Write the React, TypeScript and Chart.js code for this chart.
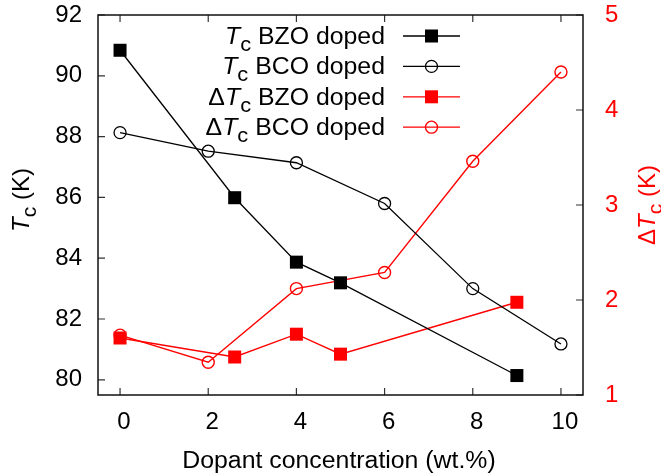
import React, { useEffect, useRef } from 'react';
import { Chart, registerables } from 'chart.js';

Chart.register(...registerables);

// ---- data ----
const bzoX = [0, 2.6, 4, 5, 9];
const bzoTc = [90.84, 85.99, 83.87, 83.19, 80.14];
const bzoDTc = [1.6, 1.4, 1.64, 1.43, 1.976];

const bcoX = [0, 2, 4, 6, 8, 10];
const bcoTc = [88.13, 87.52, 87.14, 85.8, 83.0, 81.18];
const bcoDTc = [1.63, 1.345, 2.12, 2.29, 3.46, 4.4];

const xTicks = [0, 2, 4, 6, 8, 10];
const tcTicks = [80, 82, 84, 86, 88, 90, 92];
const dtcTicks = [1, 2, 3, 4, 5];

const xTitle = 'Dopant concentration (wt.%)';

type Part = { t: string; it?: boolean; sub?: boolean };
const legendLabels: Part[][] = [
  [{ t: 'T', it: true }, { t: 'c', sub: true }, { t: ' BZO doped' }],
  [{ t: 'T', it: true }, { t: 'c', sub: true }, { t: ' BCO doped' }],
  [{ t: 'Δ' }, { t: 'T', it: true }, { t: 'c', sub: true }, { t: ' BZO doped' }],
  [{ t: 'Δ' }, { t: 'T', it: true }, { t: 'c', sub: true }, { t: ' BCO doped' }],
];
const leftTitle: Part[] = [{ t: 'T', it: true }, { t: 'c', sub: true }, { t: ' (K)' }];
const rightTitle: Part[] = [{ t: 'Δ' }, { t: 'T', it: true }, { t: 'c', sub: true }, { t: ' (K)' }];

const RED = '#ff0000';
const FONT = '"Liberation Sans", Arial, Helvetica, sans-serif';
const FS = 23;
const SX = 1.08;

function setFont(ctx: CanvasRenderingContext2D, p: Part, F: number) {
  const size = p.sub ? F * 0.88 : F;
  ctx.font = `${p.it ? 'italic ' : ''}${size}px ${FONT}`;
}

function richWidth(ctx: CanvasRenderingContext2D, parts: Part[], F: number) {
  let w = 0;
  for (const p of parts) {
    setFont(ctx, p, F);
    w += ctx.measureText(p.t).width;
  }
  return w;
}

function drawParts(ctx: CanvasRenderingContext2D, parts: Part[], F: number, startX: number) {
  let x = startX;
  ctx.textBaseline = 'alphabetic';
  ctx.textAlign = 'left';
  for (const p of parts) {
    setFont(ctx, p, F);
    ctx.fillText(p.t, x, p.sub ? F * 0.3 : 0);
    x += ctx.measureText(p.t).width;
  }
}

const framePlugin = {
  id: 'framePlugin',
  beforeDatasetsDraw(chart: any) {
    const { ctx, chartArea: a, scales } = chart;
    ctx.save();
    ctx.strokeStyle = '#333';
    ctx.lineWidth = 1.2;
    ctx.beginPath();
    const TL = 7;
    for (const t of scales.x.ticks) {
      const px = scales.x.getPixelForValue(t.value);
      ctx.moveTo(px, a.bottom);
      ctx.lineTo(px, a.bottom - TL);
      ctx.moveTo(px, a.top);
      ctx.lineTo(px, a.top + TL);
    }
    for (const t of scales.y.ticks) {
      const py = scales.y.getPixelForValue(t.value);
      ctx.moveTo(a.left, py);
      ctx.lineTo(a.left + TL, py);
    }
    for (const t of scales.y1.ticks) {
      const py = scales.y1.getPixelForValue(t.value);
      ctx.moveTo(a.right, py);
      ctx.lineTo(a.right - TL, py);
    }
    ctx.stroke();
    ctx.strokeStyle = '#111';
    ctx.lineWidth = 1.5;
    ctx.strokeRect(a.left, a.top, a.right - a.left, a.bottom - a.top);
    ctx.restore();
  },
  afterDraw(chart: any) {
    const { ctx } = chart;
    ctx.save();
    ctx.fillStyle = '#000';

    const styles = [
      { color: '#000', shape: 'rect' },
      { color: '#000', shape: 'circle' },
      { color: RED, shape: 'rect' },
      { color: RED, shape: 'circle' },
    ];
    for (let i = 0; i < legendLabels.length; i++) {
      const ly = 36 + i * 30.4;
      const w = richWidth(ctx, legendLabels[i], FS) * SX;
      ctx.save();
      ctx.fillStyle = '#000';
      ctx.translate(385 - w, ly + 8);
      ctx.scale(SX, 1);
      drawParts(ctx, legendLabels[i], FS, 0);
      ctx.restore();
      const st = styles[i];
      ctx.strokeStyle = st.color;
      ctx.lineWidth = 1.3;
      ctx.beginPath();
      ctx.moveTo(403, ly);
      ctx.lineTo(460, ly);
      ctx.stroke();
      if (st.shape === 'rect') {
        ctx.fillStyle = st.color;
        ctx.fillRect(431.5 - 6.5, ly - 6.5, 13, 13);
      } else {
        ctx.beginPath();
        ctx.arc(431.5, ly, 6, 0, Math.PI * 2);
        ctx.lineWidth = 1.3;
        ctx.stroke();
      }
    }

    ctx.fillStyle = '#000';
    ctx.font = `${FS}px ${FONT}`;
    const xw = ctx.measureText(xTitle).width * SX;
    ctx.save();
    ctx.translate(339 - xw / 2, 468);
    ctx.scale(SX, 1);
    ctx.textAlign = 'left';
    ctx.textBaseline = 'alphabetic';
    ctx.fillText(xTitle, 0, 0);
    ctx.restore();

    ctx.save();
    ctx.fillStyle = '#000';
    ctx.translate(29, 200);
    ctx.rotate(-Math.PI / 2);
    const lw = richWidth(ctx, leftTitle, FS + 1);
    drawParts(ctx, leftTitle, FS + 1, -lw / 2);
    ctx.restore();

    ctx.save();
    ctx.fillStyle = RED;
    ctx.translate(655, 205);
    ctx.rotate(-Math.PI / 2);
    const rw = richWidth(ctx, rightTitle, FS + 1);
    drawParts(ctx, rightTitle, FS + 1, -rw / 2);
    ctx.restore();

    ctx.restore();
  },
};

export default function App() {
  const ref = useRef<HTMLCanvasElement>(null);
  useEffect(() => {
    const tickFont = { family: FONT, size: 24 };
    const zeroPad = (s: any) => {
      s.paddingTop = 0;
      s.paddingBottom = 0;
      s.paddingLeft = 0;
      s.paddingRight = 0;
    };
    const chart = new Chart(ref.current as HTMLCanvasElement, {
      type: 'scatter',
      data: {
        datasets: [
          {
            label: 'Tc BZO doped',
            data: bzoX.map((x, i) => ({ x, y: bzoTc[i] })),
            yAxisID: 'y',
            showLine: true,
            borderColor: '#000',
            backgroundColor: '#000',
            borderWidth: 1.3,
            pointStyle: 'rect',
            pointRadius: 9.2,
            pointBorderWidth: 0,
            pointBackgroundColor: '#000',
          },
          {
            label: 'Tc BCO doped',
            data: bcoX.map((x, i) => ({ x, y: bcoTc[i] })),
            yAxisID: 'y',
            showLine: true,
            borderColor: '#000',
            backgroundColor: 'rgba(0,0,0,0)',
            borderWidth: 1.3,
            pointStyle: 'circle',
            pointRadius: 6,
            pointBorderWidth: 1.3,
            pointBorderColor: '#000',
            pointBackgroundColor: 'rgba(0,0,0,0)',
          },
          {
            label: 'dTc BZO doped',
            data: bzoX.map((x, i) => ({ x, y: bzoDTc[i] })),
            yAxisID: 'y1',
            showLine: true,
            borderColor: RED,
            backgroundColor: RED,
            borderWidth: 1.4,
            pointStyle: 'rect',
            pointRadius: 9.2,
            pointBorderWidth: 0,
            pointBackgroundColor: RED,
          },
          {
            label: 'dTc BCO doped',
            data: bcoX.map((x, i) => ({ x, y: bcoDTc[i] })),
            yAxisID: 'y1',
            showLine: true,
            borderColor: RED,
            backgroundColor: 'rgba(0,0,0,0)',
            borderWidth: 1.4,
            pointStyle: 'circle',
            pointRadius: 6,
            pointBorderWidth: 1.4,
            pointBorderColor: RED,
            pointBackgroundColor: 'rgba(0,0,0,0)',
          },
        ],
      },
      options: {
        responsive: false,
        maintainAspectRatio: false,
        devicePixelRatio: 1,
        animation: false,
        clip: false as any,
        layout: { padding: { top: 15, left: 0, right: 0, bottom: 0 } },
        plugins: {
          legend: { display: false },
          tooltip: { enabled: false },
          title: { display: false },
        },
        scales: {
          x: {
            type: 'linear',
            min: -0.5,
            max: 10.5,
            grid: { display: false, drawTicks: false },
            border: { display: false },
            ticks: { font: tickFont, color: '#000', padding: 13, labelOffset: 4, maxRotation: 0 },
            afterBuildTicks: (s: any) => {
              s.ticks = xTicks.map((v) => ({ value: v }));
            },
            afterFit: (s: any) => {
              s.height = 81;
              zeroPad(s);
            },
          },
          y: {
            type: 'linear',
            position: 'left',
            min: 79.5,
            max: 92,
            grid: { display: false, drawTicks: false },
            border: { display: false },
            ticks: { font: tickFont, color: '#000', padding: 16 },
            afterBuildTicks: (s: any) => {
              s.ticks = tcTicks.map((v) => ({ value: v }));
            },
            afterFit: (s: any) => {
              s.width = 98;
              zeroPad(s);
            },
          },
          y1: {
            type: 'linear',
            position: 'right',
            min: 1,
            max: 5,
            grid: { display: false, drawTicks: false },
            border: { display: false },
            ticks: { font: tickFont, color: RED, padding: 22 },
            afterBuildTicks: (s: any) => {
              s.ticks = dtcTicks.map((v) => ({ value: v }));
            },
            afterFit: (s: any) => {
              s.width = 78;
              zeroPad(s);
            },
          },
        },
      } as any,
      plugins: [framePlugin],
    });
    return () => chart.destroy();
  }, []);
  return (
    <div style={{ position: 'absolute', left: 0, top: 0, width: 661, height: 476, background: '#fff' }}>
      <canvas ref={ref} width={661} height={476} style={{ display: 'block', width: 661, height: 476 }} />
    </div>
  );
}
